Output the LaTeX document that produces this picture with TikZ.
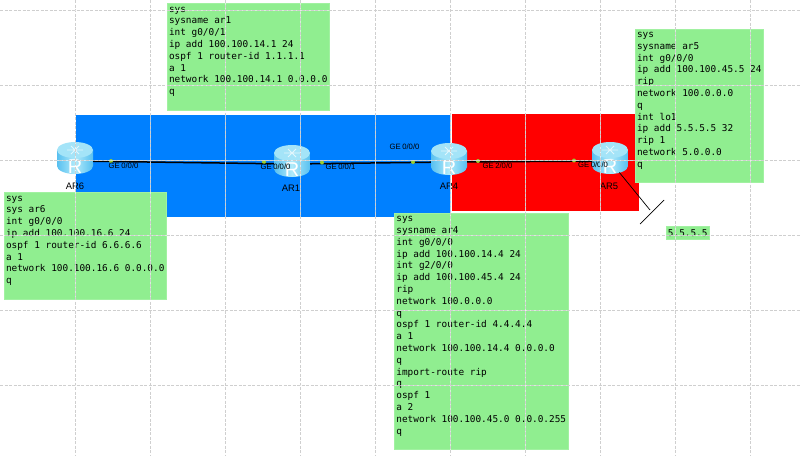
\documentclass[tikz,border=0pt]{standalone}
\usepackage{fontspec}
\setmainfont{Liberation Sans}
\setmonofont{DejaVu Sans Mono}
\newfontfamily\gefont[WordSpace=0.75]{Liberation Sans}
\usepackage{xcolor}
\usetikzlibrary{calc}
\definecolor{cfgback}{HTML}{90EE90}
\definecolor{ospfblue}{HTML}{0080FF}
\definecolor{ripred}{HTML}{FF0000}
\definecolor{portdot}{HTML}{9ACD32}
\definecolor{routertop}{HTML}{A4E4F8}
\definecolor{routerside}{HTML}{58C0F0}
\definecolor{routermid}{HTML}{B0EAFA}
\definecolor{gridgray}{HTML}{CFCFCF}
\tikzset{
  zone/.style={draw=none, inner sep=0pt, anchor=north west},
  cfg/.style={fill=cfgback, draw=cfgback!85!white, line width=.5pt, inner xsep=.6pt, inner ysep=0pt, anchor=north west, align=left, font=\fontsize{9.4}{11.8}\selectfont\ttfamily},
  router/.style={minimum width=36pt, minimum height=38pt, inner sep=0pt, text=white, font=\fontsize{20}{20}\selectfont, text height=25pt, text depth=0pt, path picture={
      \shade[left color=routerside, right color=routerside, middle color=routermid]
        ($(path picture bounding box.north west)+(0,8)$) -- ++(0,16) arc[start angle=180, end angle=360, x radius=18pt, y radius=8pt] -- ++(0,-16) -- cycle;
      \fill[routertop] ($(path picture bounding box.north)+(0,8)$) ellipse[x radius=18pt, y radius=8pt];
      \draw[white, opacity=.7, line width=.8pt] ($(path picture bounding box.north)+(-8,8)$) -- ++(16,0) ($(path picture bounding box.north)+(-4,4)$) -- ++(8,8) ($(path picture bounding box.north)+(4,4)$) -- ++(-8,8);
    }},
  link/.style={draw=black, line width=1.5pt},
  thinlink/.style={draw=black, line width=.7pt},
  port/.style={circle, fill=portdot, minimum size=4pt, inner sep=0pt},
  ge/.style={font=\fontsize{7.7}{9}\selectfont\gefont, inner sep=0pt},
  rname/.style={font=\fontsize{9.4}{10}\selectfont, inner sep=0pt},
  gridback/.style={draw=white, line width=.8pt, opacity=.6},
  gridline/.style={draw=gridgray, line width=.8pt, dash pattern=on 3pt off 1.5pt},
}
\begin{document}
\begin{tikzpicture}[x=1pt, y=-1pt]
  \useasboundingbox (0,0) rectangle (800,455);
  % zones
  \node[zone, fill=ospfblue, minimum width=375pt, minimum height=102pt] (area0) at (76,115) {};
  \node[zone, fill=ripred, minimum width=187pt, minimum height=97pt] (rip) at (452,114) {};
  % routers
  \node[router] (ar6) at (75,161) {R};
  \node[router] (ar1) at (292,164) {R};
  \node[router] (ar4) at (449,162) {R};
  \node[router] (ar5) at (610,161) {R};
  \coordinate (lo) at (650,210);
  \coordinate (loa) at (640,224);
  \coordinate (lob) at (664,200);
  % links
  \draw[link] (ar6) -- (ar1);
  \draw[link] (ar1) -- (ar4);
  \draw[link] (ar4) -- (ar5);
  \draw[thinlink, shorten <=-10pt] (ar5) -- (lo);
  \draw[thinlink] (loa) -- (lob);
  % ports
  \foreach \x/\y/\n in {111/161/a,264/162/b,322/162.5/c,413/162/d,478/161/e,574/160.5/f}{ \node[port] (p\n) at (\x,\y) {}; }
  \node[ge] (ge6) at (123.5,166) {GE 0/0/0};
  \node[ge] (ge1a) at (275.5,167) {GE 0/0/0};
  \node[ge] (ge1b) at (340.5,167) {GE 0/0/1};
  \node[ge] (ge4a) at (404.5,147) {GE 0/0/0};
  \node[ge] (ge4b) at (497.5,166) {GE 2/0/0};
  \node[ge] (ge5) at (593,165) {GE 0/0/0};
  \node[rname] (lab6) at (75,186) {AR6};
  \node[rname] (lab1) at (291,188) {AR1};
  \node[rname] (lab4) at (449,186) {AR4};
  \node[rname] (lab5) at (609,186) {AR5};
  % configs
  \node[cfg, minimum width=162pt, minimum height=107pt] (cfg1) at (167,3) {sys\\sysname ar1\\int g0/0/1\\ip add 100.100.14.1 24\\ospf 1 router-id 1.1.1.1\\a 1\\network 100.100.14.1 0.0.0.0\\q\\\mbox{}};
  \node[cfg, minimum width=162pt, minimum height=107pt] (cfg6) at (4,192) {sys\\sys ar6\\int g0/0/0\\ip add 100.100.16.6 24\\ospf 1 router-id 6.6.6.6\\a 1\\network 100.100.16.6 0.0.0.0\\q\\\mbox{}};
  \node[cfg, minimum width=174pt, minimum height=236pt] (cfg4) at (394,213) {sys\\sysname ar4\\int g0/0/0\\ip add 100.100.14.4 24\\int g2/0/0\\ip add 100.100.45.4 24\\rip\\network 100.0.0.0\\q\\ospf 1 router-id 4.4.4.4\\a 1\\network 100.100.14.4 0.0.0.0\\q\\import-route rip\\q\\ospf 1\\a 2\\network 100.100.45.0 0.0.0.255\\q\\\mbox{}};
  \node[cfg, minimum width=128pt, minimum height=153pt] (cfg5) at (635,29) {sys\\sysname ar5\\int g0/0/0\\ip add 100.100.45.5 24\\rip\\network 100.0.0.0\\q\\int lo1\\ip add 5.5.5.5 32\\rip 1\\network 5.0.0.0\\q\\\mbox{}};
  \node[cfg, minimum width=43pt, minimum height=13pt] (lo5) at (666,226) {5.5.5.5};
  % grid
  \foreach \x in {75,150,...,750}{ \draw[gridback] (\x.5,0) -- (\x.5,455); \draw[gridline] (\x.5,0) -- (\x.5,455); }
  \foreach \y in {10,85,...,385}{ \draw[gridback] (0,\y) -- (800,\y); \draw[gridline] (0,\y) -- (800,\y); }
\end{tikzpicture}
\end{document}
